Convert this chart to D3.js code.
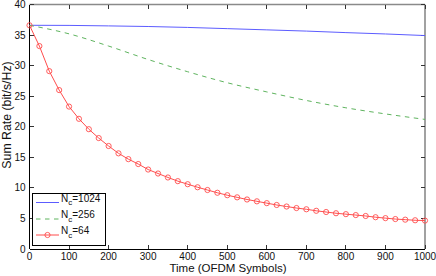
<!DOCTYPE html>
<html>
<head>
<meta charset="utf-8">
<script src="https://cdn.jsdelivr.net/npm/d3@7"></script>
<style>
  body { margin: 0; background: #fff; }
  svg { display: block; font-family: "Liberation Sans", Arial, sans-serif; }
</style>
</head>
<body>
<div class="chart"></div>
<script>
// data
var xTicks = [0, 100, 200, 300, 400, 500, 600, 700, 800, 900, 1000];
var yTicks = [0, 5, 10, 15, 20, 25, 30, 35, 40];

var timeLong = [0, 100, 200, 300, 400, 500, 600, 700, 800, 900, 1000];
var rate1024 = [36.6, 36.58, 36.5, 36.4, 36.25, 36.05, 35.85, 35.65, 35.4, 35.18, 34.92];
var rate256  = [36.6, 35.2, 33.2, 31.0, 29.0, 27.2, 25.7, 24.3, 23.1, 22.1, 21.2];

var time64 = [0, 25, 50, 75, 100, 125, 150, 175, 200, 225, 250, 275, 300, 325, 350, 375, 400,
  425, 450, 475, 500, 525, 550, 575, 600, 625, 650, 675, 700, 725, 750, 775, 800, 825, 850,
  875, 900, 925, 950, 975, 1000];
var rate64 = [36.6, 33.2, 29.1, 26.0, 23.3, 21.3, 19.6, 18.15, 16.85, 15.65, 14.7, 13.9, 13.0,
  12.35, 11.7, 11.1, 10.6, 10.1, 9.65, 9.2, 8.8, 8.45, 8.1, 7.8, 7.5, 7.2, 6.95, 6.7, 6.5,
  6.25, 6.05, 5.85, 5.7, 5.55, 5.4, 5.2, 5.05, 4.9, 4.8, 4.7, 4.65];

var legendSub = ['1024', '256', '64'];

var w = 436, h = 276;
var pLeft = 29.5, pRight = 425, pTop = 4.5, pBottom = 249;

var svg = d3.select('.chart').append('svg').attr('width', w).attr('height', h);

var x = d3.scaleLinear().domain([0, 1000]).range([pLeft, pRight]);
var y = d3.scaleLinear().domain([0, 40]).range([pBottom, pTop]);

// frame: top and right are greyish in the picture
svg.append('line').attr('x1', pLeft).attr('x2', pRight).attr('y1', pTop).attr('y2', pTop)
  .attr('stroke', '#8a8a8a').attr('stroke-width', 1.3);
svg.append('line').attr('x1', pRight).attr('x2', pRight).attr('y1', pTop).attr('y2', pBottom)
  .attr('stroke', '#8a8a8a').attr('stroke-width', 1.6);

// inward ticks on all four sides
var tl = 4;
var tk = svg.append('g').attr('stroke', '#333').attr('stroke-width', 1).attr('shape-rendering', 'crispEdges');
xTicks.forEach(function(t){
  tk.append('line').attr('x1', x(t)).attr('x2', x(t)).attr('y1', pBottom).attr('y2', pBottom - tl);
  tk.append('line').attr('x1', x(t)).attr('x2', x(t)).attr('y1', pTop).attr('y2', pTop + tl);
});
yTicks.forEach(function(t){
  tk.append('line').attr('x1', pLeft).attr('x2', pLeft + tl).attr('y1', y(t)).attr('y2', y(t));
  tk.append('line').attr('x1', pRight).attr('x2', pRight - tl).attr('y1', y(t)).attr('y2', y(t));
});

svg.append('line').attr('x1', pLeft).attr('x2', pLeft).attr('y1', pTop).attr('y2', pBottom)
  .attr('stroke', '#000').attr('shape-rendering', 'crispEdges');
svg.append('line').attr('x1', pLeft).attr('x2', pRight).attr('y1', pBottom).attr('y2', pBottom)
  .attr('stroke', '#000').attr('shape-rendering', 'crispEdges');

// tick labels
svg.append('g').selectAll('text').data(xTicks).enter().append('text')
  .text(function(d){ return d; })
  .attr('x', function(d){ return x(d); })
  .attr('y', 259.5)
  .attr('text-anchor', 'middle')
  .attr('font-size', '10px').attr('fill', '#111');
svg.append('g').selectAll('text').data(yTicks).enter().append('text')
  .text(function(d){ return d; })
  .attr('x', 25.5)
  .attr('y', function(d){ return y(d) + 3.5; })
  .attr('text-anchor', 'end')
  .attr('font-size', '10px').attr('fill', '#111');

// axis titles
svg.append('text').text('Time (OFDM Symbols)')
  .attr('x', 228).attr('y', 271.5)
  .attr('text-anchor', 'middle').attr('font-size', '11.5px').attr('fill', '#111');
svg.append('text').text('Sum Rate (bit/s/Hz)')
  .attr('transform', 'translate(10.5,115) rotate(-90)')
  .attr('text-anchor', 'middle').attr('font-size', '12.3px').attr('fill', '#111');

// series
var line = d3.line().x(function(d){ return x(d[0]); }).y(function(d){ return y(d[1]); });

var s1024 = timeLong.map(function(t, i){ return [t, rate1024[i]]; });
var s256 = timeLong.map(function(t, i){ return [t, rate256[i]]; });
var s64 = time64.map(function(t, i){ return [t, rate64[i]]; });

var blue = '#5c5cff', green = '#5fb45f', red = '#ff4d4d';

svg.append('path').datum(s1024).attr('d', line.curve(d3.curveMonotoneX))
  .attr('fill', 'none').attr('stroke', blue).attr('stroke-width', 1);
svg.append('path').datum(s256).attr('d', line.curve(d3.curveMonotoneX))
  .attr('fill', 'none').attr('stroke', green).attr('stroke-width', 1)
  .attr('stroke-dasharray', '4.5,4.5');
svg.append('path').datum(s64).attr('d', line.curve(d3.curveLinear))
  .attr('fill', 'none').attr('stroke', red).attr('stroke-width', 1);
svg.append('g').selectAll('circle').data(s64).enter().append('circle')
  .attr('cx', function(d){ return x(d[0]); })
  .attr('cy', function(d){ return y(d[1]); })
  .attr('r', 2.6)
  .attr('fill', 'none').attr('stroke', red).attr('stroke-width', 0.9);

// legend
var lg = svg.append('g');
lg.append('rect').attr('x', 32.5).attr('y', 193.5).attr('width', 73).attr('height', 51.5)
  .attr('fill', '#fff').attr('stroke', '#000').attr('stroke-width', 1).attr('shape-rendering', 'crispEdges');
var rows = [202.5, 219, 235];
var cols = [blue, green, red];
rows.forEach(function(ry, i){
  var l = lg.append('line').attr('x1', 36).attr('x2', 59).attr('y1', ry).attr('y2', ry)
    .attr('stroke', cols[i]).attr('stroke-width', 1);
  if (i == 1) l.attr('stroke-dasharray', '4.5,4.5');
  if (i == 2) lg.append('circle').attr('cx', 47.5).attr('cy', ry).attr('r', 2.6)
    .attr('fill', 'none').attr('stroke', red).attr('stroke-width', 0.9);
  var t = lg.append('text').attr('x', 61).attr('y', ry - 0.8).attr('font-size', '10px').attr('fill', '#111');
  t.append('tspan').text('N');
  t.append('tspan').text('c').attr('dy', 3.5).attr('font-size', '8px');
  t.append('tspan').text('=' + legendSub[i]).attr('dy', -3.5);
});
</script>
</body>
</html>
